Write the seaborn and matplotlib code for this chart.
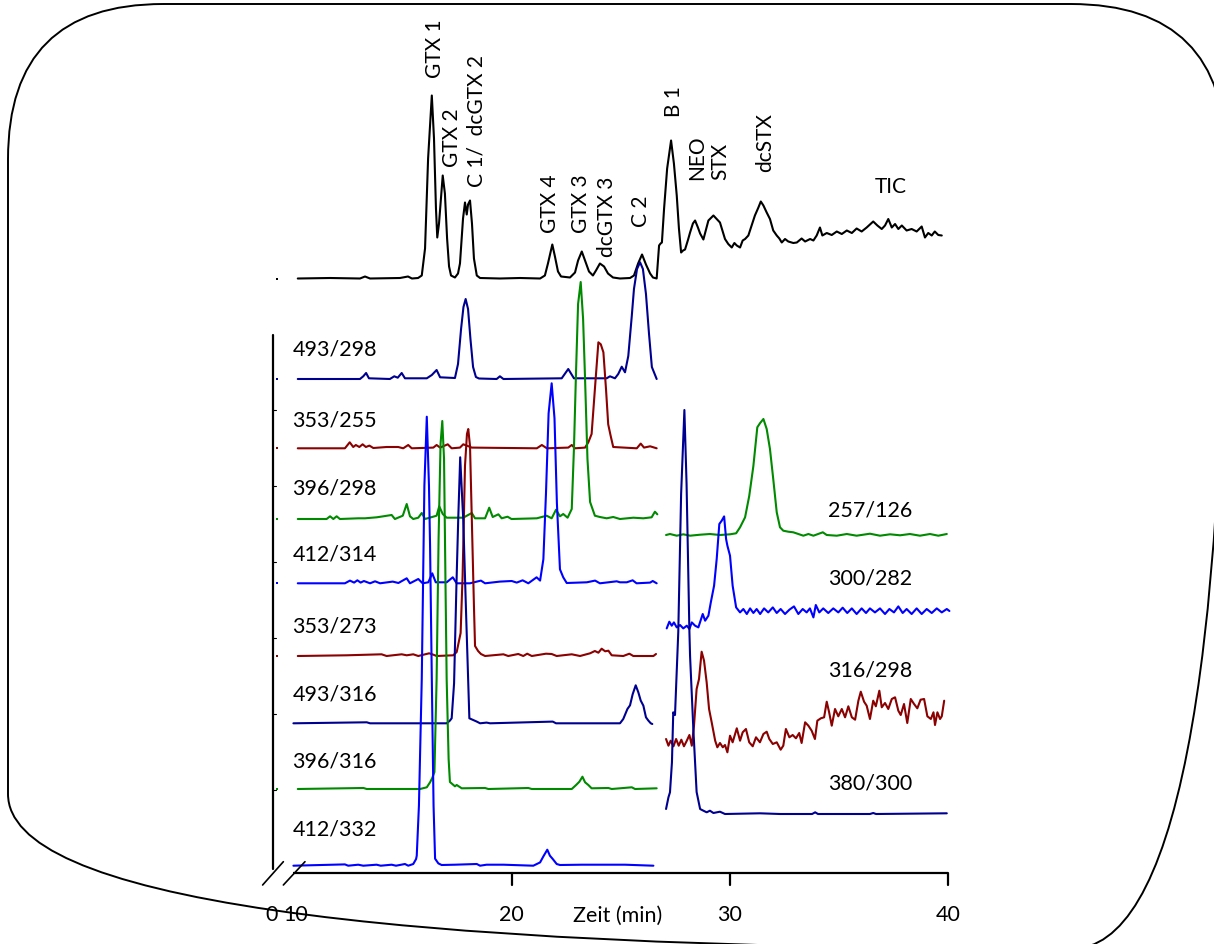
import matplotlib
matplotlib.use("Agg")
import matplotlib.pyplot as plt
import seaborn as sns
import pandas as pd
from matplotlib.patches import FancyBboxPatch

# ---------------------------------------------------------------------------
# Chromatogram data: (retention time [min], response above the trace baseline)
# ---------------------------------------------------------------------------
tic = [(10.20, 0), (11.68, 0.5), (13.05, 0), (13.28, 2), (13.51, 0), (14.88, 0.5), (15.25, 2),
       (15.43, 0), (15.71, 0.5), (15.88, 3), (16.03, 30), (16.17, 120), (16.34, 183), (16.44, 140),
       (16.53, 70), (16.59, 41), (16.67, 55), (16.84, 103), (16.94, 85), (17.04, 40), (17.13, 12),
       (17.22, 3), (17.40, 1), (17.54, 5), (17.63, 15), (17.77, 60), (17.86, 76), (17.94, 64),
       (18.00, 74), (18.09, 78), (18.18, 55), (18.27, 20), (18.40, 3), (18.55, 0.5), (19.46, 0),
       (20.38, 0.5), (21.30, 0), (21.52, 3), (21.66, 15), (21.86, 34), (21.98, 22), (22.12, 7),
       (22.26, 2), (22.67, 1), (22.90, 6), (23.04, 18), (23.21, 27), (23.36, 18), (23.54, 7),
       (23.72, 3), (23.86, 8), (24.04, 15), (24.23, 12), (24.41, 5), (24.64, 1), (24.96, 0),
       (25.42, 0.5), (25.60, 3), (25.79, 15), (25.97, 24), (26.15, 14), (26.34, 5), (26.47, 1),
       (26.64, 0), (26.75, 33), (26.82, 35), (26.88, 36), (26.98, 70), (27.12, 110), (27.30, 138),
       (27.43, 115), (27.56, 83), (27.66, 50), (27.76, 26), (27.85, 28), (27.94, 29), (28.08, 39),
       (28.17, 46), (28.30, 55), (28.40, 58), (28.53, 51), (28.63, 45), (28.78, 39), (29.01, 58),
       (29.24, 63), (29.54, 56), (29.77, 39.5), (29.92, 34.5), (30.08, 31), (30.20, 35.5),
       (30.31, 33), (30.46, 31), (30.58, 38), (30.69, 39.5), (30.84, 43), (30.99, 53), (31.14, 63),
       (31.30, 71), (31.41, 77), (31.53, 73), (31.68, 66), (31.83, 59.5), (31.98, 48), (32.14, 43),
       (32.26, 40), (32.37, 36), (32.52, 39.5), (32.67, 37), (32.90, 35.5), (33.06, 36), (33.28, 40),
       (33.44, 37), (33.67, 39.5), (33.82, 38), (33.97, 43), (34.12, 51), (34.23, 43), (34.43, 45.5),
       (34.66, 43.5), (34.89, 47), (35.12, 44.5), (35.35, 48), (35.58, 45.5), (35.80, 50),
       (36.03, 47), (36.26, 51), (36.56, 57), (36.75, 53), (36.95, 49.5), (37.10, 53), (37.25, 59.5),
       (37.41, 51), (37.56, 54.5), (37.71, 49.5), (37.87, 53), (38.09, 48), (38.32, 49.5),
       (38.55, 47), (38.78, 52), (38.93, 41), (39.08, 45.5), (39.24, 43), (39.38, 47), (39.54, 43.5),
       (39.70, 43)]

mrm_493_298 = [(10.20, 0), (13.05, 0), (13.20, 2.7), (13.33, 6), (13.46, 0.7), (14.42, 0), (14.62, 2.7),
               (14.78, 1.3), (14.96, 6), (15.11, 0.7), (16.11, 0.7), (16.34, 4), (16.56, 9), (16.72, 1.7),
               (17.40, 1), (17.54, 15), (17.68, 50), (17.79, 72), (17.89, 80), (18.00, 70), (18.11, 40),
               (18.23, 12), (18.36, 2), (18.50, 0.5), (19.31, 0), (19.46, 2.7), (19.62, 0), (22.29, 0.7),
               (22.59, 10), (22.85, 0.7), (24.35, 0.7), (24.50, 2.7), (24.73, 0.7), (24.88, 5),
               (25.04, 12.3), (25.19, 6.7), (25.34, 23), (25.50, 63), (25.60, 90), (25.74, 110),
               (25.88, 116.7), (26.01, 110), (26.15, 85), (26.29, 45), (26.42, 12), (26.64, 0)]

mrm_353_255 = [(10.20, 0), (12.36, 0), (12.58, 6), (12.74, 1.3), (12.86, 3.3), (13.02, 1.3), (13.17, 4),
               (13.32, 1.3), (13.48, 2.7), (13.66, 0.3), (14.27, 1.3), (14.80, 1.3), (15.03, 0),
               (15.26, 3.3), (15.42, 0), (16.41, 0.7), (16.56, 3.3), (16.72, 0.7), (17.07, 4), (17.25, 0),
               (17.63, 0.7), (17.78, 4), (17.94, 2.7), (18.17, 0.7), (21.15, 0), (21.38, 3.3), (21.61, 0),
               (22.59, 0.7), (22.75, 3.3), (22.90, 0), (23.36, 0.7), (23.51, 6), (23.66, 14.3),
               (23.81, 59), (23.97, 106), (24.08, 104), (24.20, 96), (24.32, 59), (24.42, 24),
               (24.53, 12.7), (24.65, 1.3), (25.73, 0), (25.91, 4.7), (26.06, 0.7), (26.34, 2), (26.64, 0)]

mrm_396_298 = [(10.20, 0), (11.52, 0), (11.68, 2.7), (11.83, 0), (11.98, 2.7), (12.13, 0), (12.97, 0.7),
               (13.28, 0.7), (13.82, 1.7), (14.12, 2.7), (14.50, 4), (14.65, 0), (15.01, 3.3), (15.19, 15),
               (15.34, 2.7), (15.49, 0), (15.72, 1.3), (15.88, 6), (16.03, 0), (16.56, 3.3), (16.68, 12.7),
               (16.84, 5), (17.02, 1.3), (17.78, 1.3), (18.17, 6), (18.32, 0.7), (18.78, 0.7),
               (18.97, 11.3), (19.13, 2), (19.39, 4.7), (19.54, 0.7), (19.81, 2.3), (19.99, 0),
               (21.15, 0.7), (21.60, 3.3), (21.83, 0.7), (22.03, 9.3), (22.21, 2.7), (22.36, 5),
               (22.56, 1.3), (22.75, 10), (22.85, 70), (22.95, 150), (23.04, 215), (23.16, 237),
               (23.27, 200), (23.36, 140), (23.47, 60), (23.59, 17), (23.81, 3.3), (24.04, 2),
               (24.35, 0.7), (24.65, 2), (24.96, 0), (25.57, 1.3), (26.03, 0.7), (26.41, 1.7),
               (26.56, 7.3), (26.67, 4.7)]

mrm_412_314 = [(10.20, 0), (12.36, 0), (12.59, 2.7), (12.78, 0.7), (12.93, 3), (13.08, 0.7), (13.23, 2.3),
               (13.51, 0), (13.74, 2), (13.97, 0), (14.55, 1.7), (14.81, 0.3), (15.19, 5), (15.34, 0),
               (15.72, 4.3), (15.92, 0), (16.18, 1), (16.36, 10), (16.52, 1), (17.02, 1), (17.30, 6),
               (17.48, 0), (18.09, 0), (18.59, 2.7), (18.78, 0), (19.46, 1.7), (20.00, 2.3), (20.23, 0.7),
               (20.50, 3), (20.76, 0), (21.14, 6), (21.30, 2.7), (21.45, 24), (21.57, 90), (21.69, 170),
               (21.83, 200), (21.96, 165), (22.07, 80), (22.21, 14), (22.36, 6), (22.52, 0.3),
               (23.44, 1), (23.82, 2.7), (24.04, 0), (24.43, 1), (24.81, 2), (24.96, 1), (25.27, 1),
               (25.54, 3), (25.72, 0), (26.34, 0.7), (26.46, 2.3), (26.64, 0)]

mrm_353_273 = [(10.20, 0), (12.44, 0.7), (14.04, 1.7), (14.27, 0), (14.96, 1.7), (15.19, 0.7), (15.49, 1.7),
               (15.72, 0), (16.22, 2.7), (16.41, 1.3), (16.56, 0), (17.32, 0.7), (17.48, 4), (17.66, 23),
               (17.75, 80), (17.86, 190), (17.95, 222), (18.01, 227), (18.09, 210), (18.18, 130),
               (18.27, 50), (18.32, 10), (18.46, 5), (18.59, 2), (18.78, 0), (19.62, 1.7), (19.84, 0),
               (20.30, 2), (20.53, 0), (20.71, 2.3), (20.92, 0), (21.57, 2.3), (21.83, 2), (22.06, 0),
               (22.75, 1.7), (23.13, 0), (23.59, 2.7), (23.81, 5), (23.97, 3.3), (24.12, 7.3),
               (24.28, 4.7), (24.43, 5.3), (24.58, 0.7), (25.11, 0), (25.39, 2.3), (25.57, 0),
               (26.49, 0), (26.61, 2)]

mrm_493_316 = [(10.00, 0), (13.36, 1), (13.51, 0), (17.02, 0), (17.17, 2.7), (17.25, 5), (17.36, 40),
               (17.47, 140), (17.55, 204), (17.64, 266), (17.72, 230), (17.78, 204), (17.91, 110),
               (18.06, 5), (18.40, 1.7), (18.55, 0), (18.85, 0.7), (19.01, 0), (21.88, 1.7), (22.03, 0),
               (24.96, 0), (25.11, 4.3), (25.30, 14.3), (25.42, 18), (25.54, 29), (25.68, 38),
               (25.80, 31), (25.91, 22.7), (26.03, 17.7), (26.15, 6), (26.26, 2.7), (26.37, 0),
               (26.44, -0.7)]

mrm_396_316 = [(10.20, 0), (13.21, 1), (13.36, 0), (15.80, 0), (16.11, 1.7), (16.26, 6.7), (16.36, 11),
               (16.46, 17), (16.56, 110), (16.65, 250), (16.74, 345), (16.82, 368), (16.90, 330),
               (16.97, 200), (17.02, 110), (17.11, 30), (17.17, 7), (17.40, 2.7), (17.48, 4), (17.71, 0.7),
               (18.78, 1), (18.93, 0), (20.76, 1), (20.92, 0), (22.75, 0), (22.95, 4), (23.10, 7.3),
               (23.24, 12.3), (23.36, 6.7), (23.51, 4), (23.66, 0.7), (24.43, 1), (24.58, 0),
               (25.50, 1.7), (25.65, 0), (26.64, 0.7)]

mrm_412_332 = [(10.00, 0), (12.36, 1.3), (12.51, 0), (12.97, 1), (13.20, 0), (13.81, 1), (14.00, 0),
               (14.50, 1), (14.70, 0), (15.11, 1.7), (15.26, 0), (15.49, 1.7), (15.62, 6.7), (15.65, 10),
               (15.75, 60), (15.88, 187), (15.95, 300), (16.00, 380), (16.11, 449), (16.21, 380),
               (16.26, 320), (16.34, 187), (16.42, 60), (16.49, 7), (16.64, 2.3), (16.79, 0.7),
               (17.40, 1), (18.40, 1.7), (18.55, 0), (18.85, 1), (19.62, 1), (20.99, 0), (21.30, 3.3),
               (21.45, 9.3), (21.63, 16), (21.75, 10), (21.88, 6.7), (22.06, 1.7), (22.21, 0.7),
               (23.21, 1), (24.20, 1), (25.19, 1), (26.49, 0)]

mrm_257_126 = [(27.07, 0), (27.25, 1), (27.56, -0.7), (27.86, 0.7), (28.17, -0.7), (28.63, 0.3), (29.08, 1),
               (29.54, 0), (30.00, 0.7), (30.28, 1.7), (30.46, 7.7), (30.69, 17.7), (30.88, 39),
               (31.07, 69), (31.25, 107.7), (31.38, 112), (31.53, 116), (31.68, 106), (31.83, 86),
               (31.98, 56), (32.14, 22.7), (32.29, 7.7), (32.44, 4.3), (32.67, 3.3), (32.90, 2.7),
               (33.13, 1), (33.36, -0.7), (33.59, 1), (33.82, -0.7), (34.25, 2.7), (34.43, 0),
               (34.89, -0.7), (35.35, 1), (35.80, -0.7), (36.41, 1.3), (36.87, -0.7), (37.33, 0.7),
               (37.79, -0.3), (38.24, 1), (38.70, -0.7), (39.16, 1), (39.54, -0.7), (39.93, 1)]

mrm_300_282 = [(27.10, -17.7), (27.22, -11), (27.33, -15), (27.43, -11.7), (27.56, -16.7), (27.71, -14.3),
               (27.86, -17.7), (28.02, -15), (28.14, -18.3), (28.25, -11.7), (28.40, -15), (28.55, -16.7),
               (28.75, -3.3), (28.86, -10), (29.01, -5), (29.12, 8.3), (29.27, 25), (29.39, 51.7),
               (29.51, 86.7), (29.62, 90), (29.73, 94.3), (29.82, 71.7), (29.88, 65), (30.00, 55),
               (30.12, 25), (30.28, 3.3), (30.46, -1.7), (30.61, 1.7), (30.77, -3.3), (30.92, 2.3),
               (31.07, -2.3), (31.22, 1.7), (31.38, -3.3), (31.56, 2.3), (31.75, -1.7), (31.96, 3.3),
               (32.14, -2.3), (32.32, 1.7), (32.52, -3.3), (32.72, 1), (32.93, 4.3), (33.13, -3.3),
               (33.33, 1.7), (33.51, -1.7), (33.66, 2.3), (33.82, -6.7), (33.93, 5.7), (34.09, -1.7),
               (34.27, 2.3), (34.50, -2.3), (34.73, 2.3), (34.96, -1.7), (35.16, 3), (35.37, -2.3),
               (35.58, 2.3), (35.80, -3.3), (36.03, 2.3), (36.23, -2.3), (36.41, 2.3), (36.64, -1.7),
               (36.87, 2.3), (37.10, -3.3), (37.30, 1.7), (37.51, -1.7), (37.71, 4.3), (37.91, -2.3),
               (38.09, 1.7), (38.32, -3.3), (38.55, 2.3), (38.78, -3.3), (39.01, 1.7), (39.24, -2.3),
               (39.47, 2.3), (39.70, -1.7), (39.93, 1.7), (40.05, -0.3)]

mrm_316_298 = [(27.07, 5), (27.18, -1.7), (27.28, 3.3), (27.41, -2.3), (27.53, 5), (27.65, -1.7),
               (27.77, 4.3), (27.89, -2.3), (28.02, 3.3), (28.14, 9), (28.25, -1.7), (28.35, 18.3),
               (28.47, 55), (28.58, 65), (28.70, 92.3), (28.81, 83.3), (28.93, 61.7), (29.04, 35),
               (29.16, 21.7), (29.32, 3.3), (29.42, -3.3), (29.54, 1), (29.67, -3.3), (29.77, -1),
               (29.88, -8.3), (30.00, 8.3), (30.12, 1.7), (30.31, 15.7), (30.46, 3.3), (30.58, 11.7),
               (30.73, 15), (30.88, 1.7), (31.04, -2.3), (31.19, 6.7), (31.37, 1.7), (31.53, 10),
               (31.68, 12.3), (31.80, 5), (31.96, 0), (32.14, 1.7), (32.32, -5.7), (32.44, -1.7),
               (32.56, 15), (32.72, 6.7), (32.87, 9), (33.02, 5.7), (33.17, 11), (33.28, 1),
               (33.44, 21.7), (33.59, 18.3), (33.74, 13.3), (33.89, 5), (34.00, 23.3), (34.16, 25.7),
               (34.31, 26.7), (34.43, 42.3), (34.54, 31.7), (34.66, 18.3), (34.81, 35), (34.96, 27.7),
               (35.12, 35), (35.27, 26.7), (35.42, 37.7), (35.58, 26.7), (35.73, 24.3), (35.88, 43.3),
               (35.99, 52.3), (36.14, 42.3), (36.26, 38.3), (36.41, 25), (36.56, 43.3), (36.68, 37.7),
               (36.84, 53.3), (36.95, 36.7), (37.10, 41), (37.25, 35), (37.41, 45), (37.56, 46.7),
               (37.71, 33.3), (37.82, 29), (37.97, 40), (38.12, 21), (38.28, 45), (38.43, 40),
               (38.58, 35.7), (38.73, 44.3), (38.89, 45), (39.04, 27.7), (39.20, 25), (39.32, 31.7),
               (39.39, 19), (39.50, 31.7), (39.62, 25), (39.70, 27.7), (39.81, 43.3)]

mrm_380_300 = [(27.07, 5), (27.18, 16.7), (27.25, 21.7), (27.34, 51.7), (27.40, 101.7), (27.48, 99),
               (27.63, 182), (27.76, 320), (27.91, 404), (28.01, 330), (28.14, 182), (28.17, 158),
               (28.32, 85), (28.47, 22), (28.63, 5), (28.78, 3.3), (28.93, 1.7), (29.08, 3.3),
               (29.24, 1), (29.54, 2.3), (29.77, 0), (31.37, 0.7), (32.29, 0), (33.76, 0), (33.90, 1.7),
               (34.03, 0), (36.41, 0), (36.56, 1), (36.69, 0), (39.93, 0.7)]

# transition names and peak names
left_names = ["493/298", "353/255", "396/298", "412/314", "353/273", "493/316", "396/316", "412/332"]
right_names = ["257/126", "300/282", "316/298", "380/300"]
peak_names = ["GTX 1", "GTX 2", "C 1/  dcGTX 2", "GTX 4", "GTX 3", "dcGTX 3",
              "C 2", "B 1", "NEO", "STX", "dcSTX"]
x_ticks = [20, 30, 40]

# ---------------------------------------------------------------------------
# Styling and layout
# ---------------------------------------------------------------------------
sns.set_theme(style="white")
plt.rcParams["font.family"] = ["Lato", "DejaVu Sans"]

NAVY, DRED, GREEN, BLUE = "#000090", "#8b0000", "#008a00", "#0000ff"

fig = plt.figure(figsize=(12.14, 9.45), dpi=100)
ax = fig.add_axes([0, 0, 1, 1])
ax.set_xlim(-3.44, 52.17)
ax.set_ylim(0, 945)
ax.axis("off")

# (data, colour, stacking offset, draw a start dot)
traces = [
    (tic, "black", 665.5, True),
    (mrm_493_298, NAVY, 565.0, True),
    (mrm_353_255, DRED, 495.7, True),
    (mrm_396_298, GREEN, 425.0, True),
    (mrm_412_314, BLUE, 360.7, True),
    (mrm_353_273, DRED, 288.0, True),
    (mrm_493_316, NAVY, 220.7, False),
    (mrm_396_316, GREEN, 155.0, True),
    (mrm_412_332, BLUE, 78.3, False),
    (mrm_257_126, GREEN, 409.0, False),
    (mrm_300_282, BLUE, 333.3, False),
    (mrm_316_298, DRED, 200.0, False),
    (mrm_380_300, NAVY, 130.0, False),
]

for data, col, off, dot in traces:
    df = pd.DataFrame(data, columns=["t", "resp"])
    df["signal"] = df["resp"] + off
    sns.lineplot(data=df, x="t", y="signal", ax=ax, color=col, lw=1.5,
                 estimator=None, sort=False, legend=False)
    if dot:
        ax.plot([9.24], [off], marker="s", ms=1.6, color=col, mew=0)

# x axis with a break between 0 and 10
ax.plot([10, 40], [71, 71], color="black", lw=1.6, solid_capstyle="butt")
for v in x_ticks:
    ax.plot([v, v], [71, 59], color="black", lw=1.6)
    ax.text(v, 30, str(v), ha="center", va="center", fontsize=15.5, color="black")
ax.text(8.98, 30, "0", ha="center", va="center", fontsize=15.5, color="black")
ax.text(10.12, 30, "10", ha="center", va="center", fontsize=15.5, color="black")
ax.text(24.87, 29, "Zeit (min)", ha="center", va="center", fontsize=15.5, color="black")
for x0, x1 in [(8.59, 9.54), (9.54, 10.53)]:
    ax.plot([x0, x1], [59, 82.3], color="black", lw=1.2)

# stacked-intensity axis
ax.plot([9.07, 9.07], [609, 75], color="black", lw=1.6)
for yv in [534, 458, 382, 306, 230, 154]:
    ax.plot([9.07, 9.19], [yv, yv], color="black", lw=0.8)

# transition labels
for name, yv in zip(left_names, [595, 524, 456.5, 390, 318.5, 250, 183.5, 115]):
    ax.text(9.96, yv, name, ha="left", va="center", fontsize=15.5, color="black")
for name, yv in zip(right_names, [434, 366, 274, 161]):
    ax.text(34.49, yv, name, ha="left", va="center", fontsize=15.5, color="black")

# peak identities above the TIC
peak_xy = [(16.49, 867), (17.27, 778), (18.37, 758), (21.76, 712), (23.17, 712), (24.36, 688),
           (25.92, 718), (27.43, 828), (28.49, 765), (29.54, 765), (31.60, 773)]
for name, (xv, yv) in zip(peak_names, peak_xy):
    ax.text(xv, yv, name, rotation=90, ha="center", va="bottom", fontsize=15, color="black")
ax.text(37.37, 758, "TIC", ha="center", va="center", fontsize=15, color="black")

# rounded frame around the whole panel
frame = fig.add_axes([0, 0, 1, 1])
frame.set_xlim(0, 1214)
frame.set_ylim(945, 0)
frame.axis("off")
frame.patch.set_alpha(0)
frame.add_patch(FancyBboxPatch((8, 5), 1218, 945, boxstyle="round,pad=0,rounding_size=155",
                               fill=False, ec="black", lw=1.4))

fig.savefig("out.png", dpi=100)
